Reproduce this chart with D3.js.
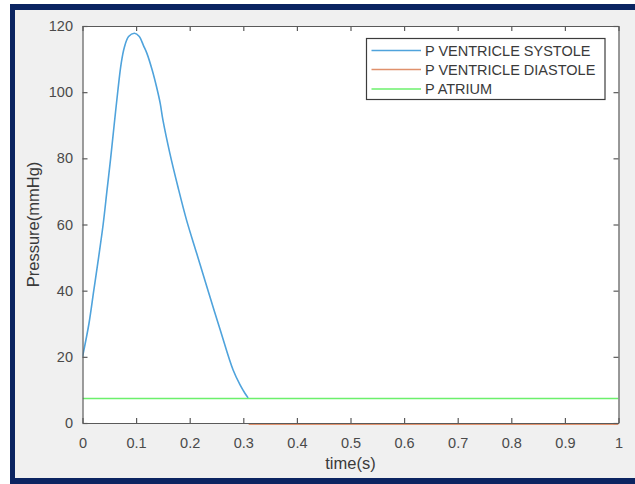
<!DOCTYPE html>
<html>
<head>
<meta charset="utf-8">
<script src="https://cdn.jsdelivr.net/npm/d3@7"></script>
<style>
  html, body { margin: 0; padding: 0; background: #ffffff; }
  svg { display: block; font-family: "Liberation Sans", Arial, sans-serif; }
</style>
</head>
<body>
<svg id="chart" width="635" height="484"></svg>
<script>
// Ventricular pressure during systole (time in s, pressure in mmHg)
const systoleTime = [0, 0.012, 0.021, 0.030, 0.0385, 0.0455, 0.0525, 0.059, 0.066, 0.072, 0.078, 0.086, 0.097,
                     0.106, 0.114, 0.120, 0.130, 0.138, 0.145, 0.150, 0.163, 0.178, 0.194, 0.213, 0.232, 0.257, 0.281, 0.294, 0.303, 0.309];
const systolePressure = [20, 30, 40, 50, 60, 70, 80, 90, 100.5, 108.5, 113.5, 116.8, 117.8,
                         116.8, 114, 111.8, 106.7, 101.7, 96.6, 91.6, 81.5, 71.4, 61.4, 51.3, 41.2, 28.1, 16.0, 11.5, 9.0, 7.6];

// Ventricular pressure during diastole
const diastoleTime = [0.31, 1];
const diastolePressure = [-0.4, -0.4];

// Atrial pressure
const atriumTime = [0, 1];
const atriumPressure = [7.4, 7.4];

const xTicks = [0, 0.1, 0.2, 0.3, 0.4, 0.5, 0.6, 0.7, 0.8, 0.9, 1];
const yTicks = [0, 20, 40, 60, 80, 100, 120];

const seriesNames = ["P VENTRICLE SYSTOLE", "P VENTRICLE DIASTOLE", "P ATRIUM"];
const seriesColors = ["#4fa3dc", "#e0916c", "#6cf06c"];

const svg = d3.select("#chart");
const W = 635, H = 484;

// Window frame
svg.append("rect").attr("x", 10).attr("y", 4).attr("width", W).attr("height", H)
  .attr("fill", "#0b2461");
svg.append("rect").attr("x", 15).attr("y", 10).attr("width", W).attr("height", 468)
  .attr("fill", "#f0f0f0");

const plot = { left: 82.5, right: 618.5, top: 26, bottom: 423 };

const x = d3.scaleLinear().domain([0, 1]).range([plot.left, plot.right]);
const y = d3.scaleLinear().domain([0, 120]).range([plot.bottom, plot.top]);

svg.append("rect")
  .attr("x", plot.left).attr("y", plot.top)
  .attr("width", plot.right - plot.left).attr("height", plot.bottom - plot.top)
  .attr("fill", "#ffffff");

// Data lines (clipped to the axes box)
svg.append("clipPath").attr("id", "clip").append("rect")
  .attr("x", plot.left).attr("y", plot.top)
  .attr("width", plot.right - plot.left).attr("height", plot.bottom - plot.top + 2);

const line = d3.line().x(d => x(d[0])).y(d => y(d[1])).curve(d3.curveCatmullRom.alpha(0.5));
const series = [
  d3.zip(systoleTime, systolePressure),
  d3.zip(diastoleTime, diastolePressure),
  d3.zip(atriumTime, atriumPressure)
];
const lines = svg.append("g").attr("clip-path", "url(#clip)");
[2, 1, 0].forEach(i => {
  lines.append("path")
    .attr("d", line(series[i]))
    .attr("fill", "none")
    .attr("stroke", seriesColors[i])
    .attr("stroke-width", 1.6)
    .attr("stroke-linejoin", "round");
});

// Axes with inward ticks on all four sides
const axisColor = "#5a5a5a";
function styleAxis(g, showLabels) {
  g.select(".domain").attr("stroke", axisColor).attr("stroke-width", 1.2);
  g.selectAll(".tick line").attr("stroke", axisColor).attr("stroke-width", 1.2);
  g.selectAll(".tick text").attr("fill", "#4a4a4a").attr("font-size", 14.5)
    .style("display", showLabels ? null : "none");
}

svg.append("g").attr("transform", `translate(0,${plot.bottom})`)
  .call(d3.axisBottom(x).tickValues(xTicks).tickFormat(d3.format("")).tickSizeInner(-5).tickSizeOuter(0).tickPadding(15))
  .call(g => styleAxis(g, true));
svg.append("g").attr("transform", `translate(0,${plot.top})`)
  .call(d3.axisTop(x).tickValues(xTicks).tickSizeInner(-5).tickSizeOuter(0))
  .call(g => styleAxis(g, false));
svg.append("g").attr("transform", `translate(${plot.left},0)`)
  .call(d3.axisLeft(y).tickValues(yTicks).tickSizeInner(-5).tickSizeOuter(0).tickPadding(9.5))
  .call(g => styleAxis(g, true));
svg.append("g").attr("transform", `translate(${plot.right},0)`)
  .call(d3.axisRight(y).tickValues(yTicks).tickSizeInner(-5).tickSizeOuter(0))
  .call(g => styleAxis(g, false));

// Axis titles
svg.append("text")
  .attr("x", x(0.5)).attr("y", 469)
  .attr("text-anchor", "middle").attr("font-size", 16.5).attr("fill", "#3a3a3a")
  .text("time(s)");
svg.append("text")
  .attr("transform", `translate(39,${(plot.top + plot.bottom) / 2}) rotate(-90)`)
  .attr("text-anchor", "middle").attr("font-size", 16.5).attr("fill", "#3a3a3a")
  .text("Pressure(mmHg)");

// Legend
const legend = svg.append("g");
legend.append("rect")
  .attr("x", 366.5).attr("y", 38.5).attr("width", 238.5).attr("height", 61)
  .attr("fill", "#ffffff").attr("stroke", "#3c3c3c").attr("stroke-width", 1.2);
const rowY = [50.5, 69.5, 89];
seriesNames.forEach((name, i) => {
  legend.append("line")
    .attr("x1", 371.5).attr("x2", 421).attr("y1", rowY[i]).attr("y2", rowY[i])
    .attr("stroke", seriesColors[i]).attr("stroke-width", 1.6);
  legend.append("text")
    .attr("x", 425).attr("y", rowY[i] + 5.2)
    .attr("font-size", 14.5).attr("fill", "#3a3a3a")
    .text(name);
});
</script>
</body>
</html>
